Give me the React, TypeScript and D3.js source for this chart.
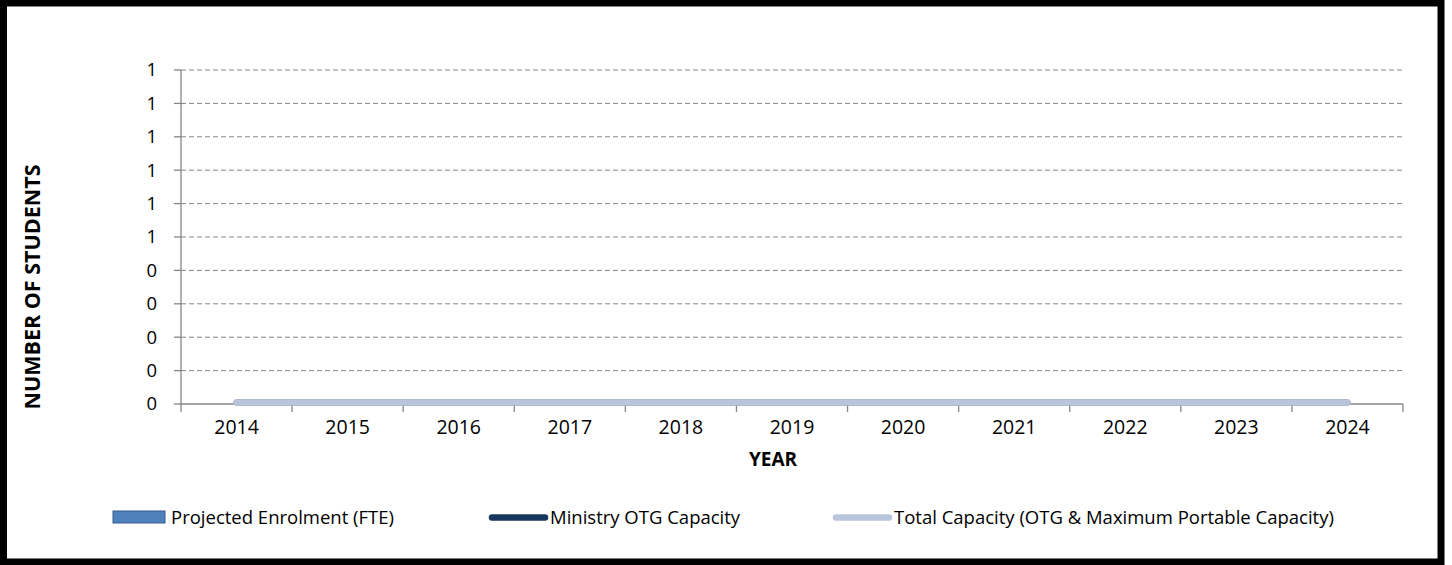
import React from "react";
import * as d3 from "d3";

const years = ["2014", "2015", "2016", "2017", "2018", "2019", "2020", "2021", "2022", "2023", "2024"];
const projectedEnrolment = [0, 0, 0, 0, 0, 0, 0, 0, 0, 0, 0];
const ministryOTG = [0, 0, 0, 0, 0, 0, 0, 0, 0, 0, 0];
const totalCapacity = [0, 0, 0, 0, 0, 0, 0, 0, 0, 0, 0];
const yDomain = [0, 1];
const legendLabels = [
  "Projected Enrolment (FTE)",
  "Ministry OTG Capacity",
  "Total Capacity (OTG & Maximum Portable Capacity)",
];

const W = 1452;
const H = 565;
const FONT = "'Open Sans', 'Noto Sans', sans-serif";
const AXIS = "#868686";
const C_BAR = "#4F81BD";
const C_BAR_STROKE = "#385D8A";
const C_OTG = "#17375E";
const C_TOTAL = "#B9C5DB";

export default function App() {
  const x = d3.scaleBand<string>().domain(years).range([181, 1403]).padding(0);
  const y = d3.scaleLinear().domain(yDomain).range([404, 70]);
  const yTicks = y.ticks(10);
  const fmt = (v: number) => String(Math.round(v));
  const cx = (yr: string) => (x(yr) as number) + x.bandwidth() / 2;
  const line = d3
    .line<number>()
    .x((_, i) => cx(years[i]))
    .y((d) => y(d));
  const boundaries = [...years.map((yr) => x(yr) as number), x.range()[1]];
  const barW = x.bandwidth() * 0.5;

  return (
    <div style={{ position: "absolute", left: 0, top: 0 }}>
      <svg width={W} height={H} style={{ display: "block", background: "#fff" }} fontFamily={FONT}>
        <rect x={3.5} y={3} width={1437.5} height={559} fill="#fff" stroke="#000" strokeWidth={7} />
        {/* gridlines */}
        {yTicks.map((t) =>
          t === 0 ? null : (
            <line key={"g" + t} x1={181} x2={1403} y1={y(t)} y2={y(t)} stroke={AXIS} strokeWidth={1} strokeDasharray="5,3" />
          )
        )}
        {/* y axis */}
        <line x1={181} x2={181} y1={70} y2={404} stroke={AXIS} strokeWidth={1.3} />
        {yTicks.map((t) => (
          <g key={"yt" + t}>
            <line x1={174} x2={181} y1={y(t)} y2={y(t)} stroke={AXIS} strokeWidth={1.3} />
            <text x={157} y={y(t)} dy="0.35em" textAnchor="end" fontSize={18.5} fill="#000">
              {fmt(t)}
            </text>
          </g>
        ))}
        {/* bars */}
        {projectedEnrolment.map((v, i) => (
          <rect
            key={"b" + i}
            x={cx(years[i]) - barW / 2}
            y={y(v)}
            width={barW}
            height={y(0) - y(v)}
            fill={C_BAR}
            stroke={C_BAR_STROKE}
          />
        ))}
        {/* x axis */}
        <line x1={181} x2={1403} y1={404} y2={404} stroke={AXIS} strokeWidth={1.3} />
        {boundaries.map((b, i) => (
          <line key={"xt" + i} x1={b} x2={b} y1={404} y2={412} stroke={AXIS} strokeWidth={1.3} />
        ))}
        {/* lines */}
        <g transform="translate(0,-1.5)">
          <path d={line(ministryOTG) || ""} fill="none" stroke={C_OTG} strokeWidth={6} strokeLinecap="round" />
          <path d={line(totalCapacity) || ""} fill="none" stroke={C_TOTAL} strokeWidth={6.5} strokeLinecap="round" />
        </g>
        {years.map((yr) => (
          <text key={"xl" + yr} x={cx(yr)} y={434} textAnchor="middle" fontSize={19.5} fill="#000">
            {yr}
          </text>
        ))}
        {/* axis titles */}
        <text x={773} y={466} textAnchor="middle" fontSize={19} fontWeight="bold" fill="#000">
          YEAR
        </text>
        <text
          transform={`translate(40,287) rotate(-90)`}
          textAnchor="middle"
          fontSize={21.5}
          fontWeight="bold"
          fill="#000"
        >
          NUMBER OF STUDENTS
        </text>
        {/* legend */}
        <rect x={113} y={511} width={52} height={12} fill={C_BAR} stroke={C_BAR_STROKE} strokeWidth={1} />
        <text x={171} y={524} fontSize={18.5} fill="#000">
          {legendLabels[0]}
        </text>
        <line x1={492} x2={545} y1={517.5} y2={517.5} stroke={C_OTG} strokeWidth={6.5} strokeLinecap="round" />
        <text x={550} y={524} fontSize={18.5} fill="#000">
          {legendLabels[1]}
        </text>
        <line x1={836} x2={889} y1={517.5} y2={517.5} stroke={C_TOTAL} strokeWidth={6.5} strokeLinecap="round" />
        <text x={894} y={524} fontSize={18.5} fill="#000">
          {legendLabels[2]}
        </text>
      </svg>
    </div>
  );
}
